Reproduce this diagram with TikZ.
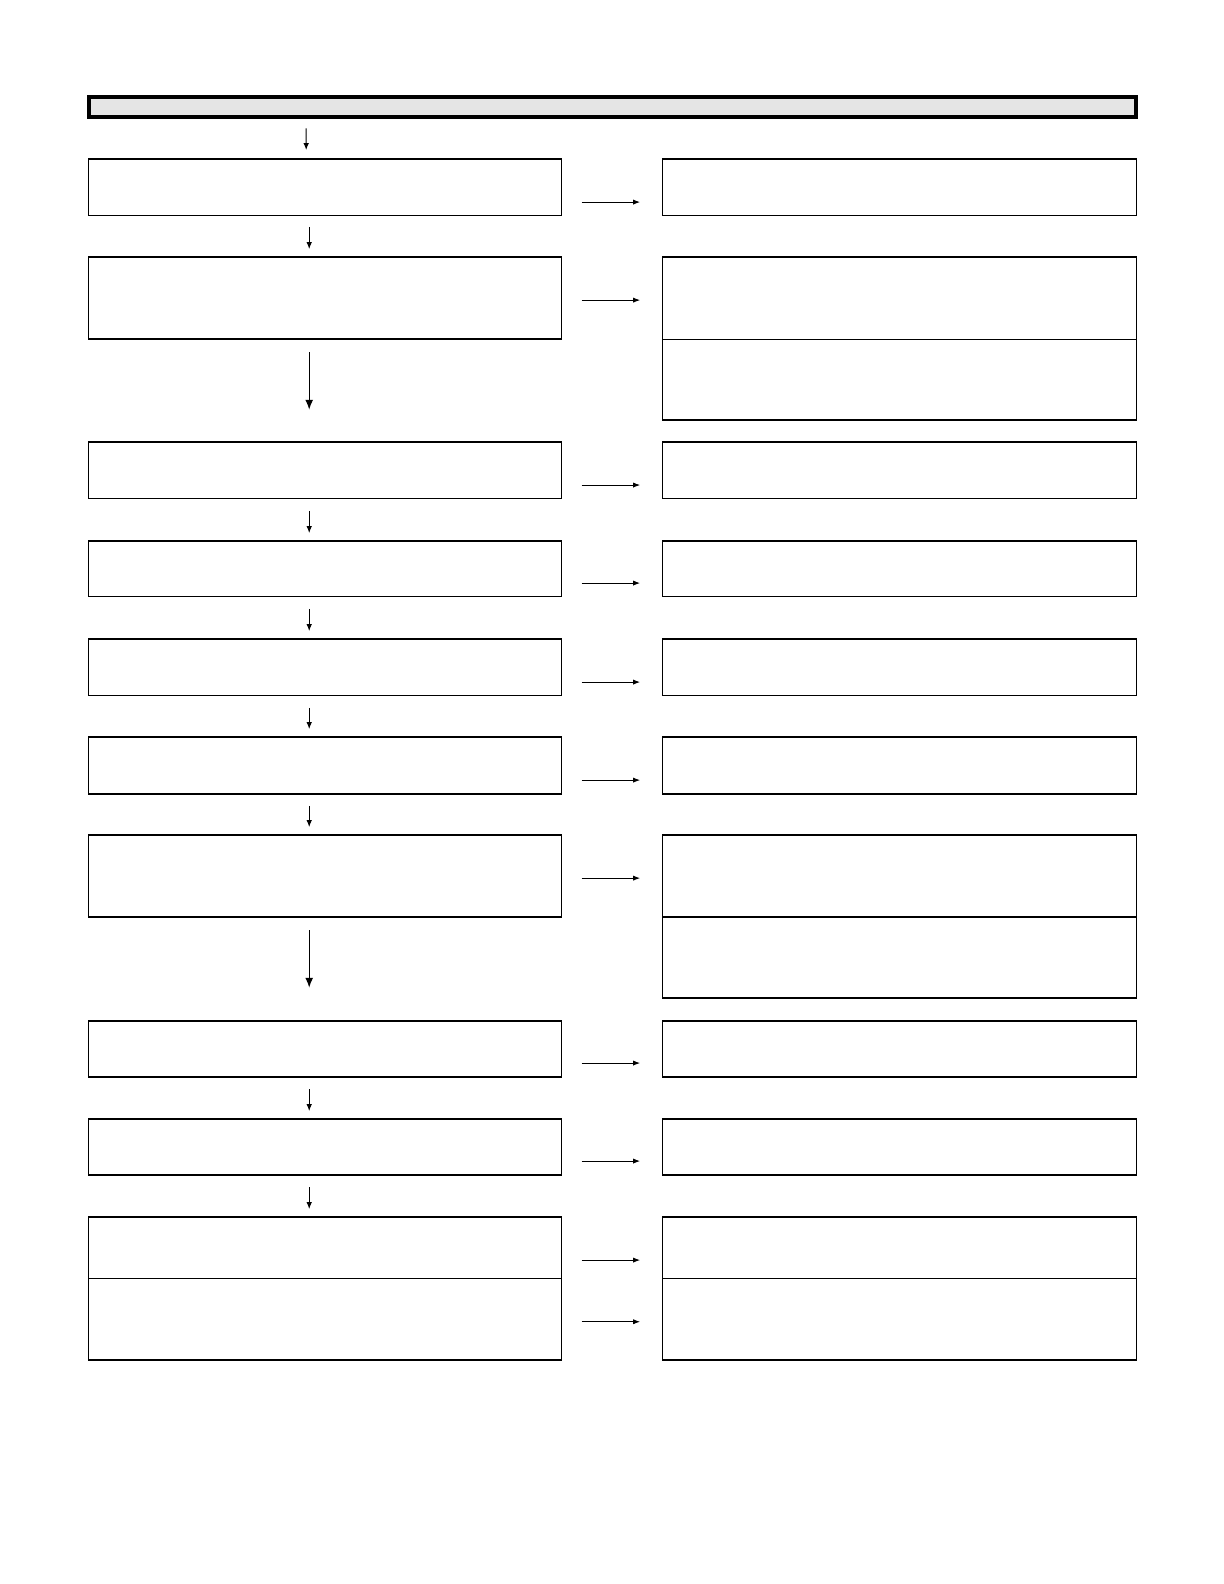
\documentclass[tikz,border=0pt]{standalone}
\usepackage{tikz}
\usetikzlibrary{calc}
\usetikzlibrary{arrows.meta,positioning}

\tikzset{
  leftbox/.style={rectangle,minimum width=236.46pt,inner sep=0pt,outer sep=0pt,draw=black,line width=0.75pt},
  rightbox/.style={rectangle,minimum width=236.96pt,inner sep=0pt,outer sep=0pt,draw=black,line width=0.75pt},
  dnarrow/.style={-{Latex[length=3.5pt,width=2.8pt]},line width=0.5pt},
  longarrow/.style={-{Latex[length=5pt,width=4pt]},line width=0.7pt},
  sidearrow/.style={-{Latex[length=3.5pt,width=2.6pt]},line width=0.5pt}
}

\begin{document}
\begin{tikzpicture}[x=0.50525pt,y=-0.50525pt]

\useasboundingbox (0pt,0pt) rectangle (612pt,-792pt);
\coordinate (TOPCORNER) at (0,0);

% draw header bar
\node[rectangle,minimum width=523.44pt,minimum height=10.1pt,fill=black!10,draw=black,line width=2pt,inner sep=0pt,outer sep=0pt] at ($(TOPCORNER)+(606,106)$) (HEADER) {};

%%%%%%%%%%%%%%%%%%%
% draw left column
\node[leftbox,minimum height=28.29pt] at ($(TOPCORNER)+(321.5,185.5)$) (LEFT1) {};
\node[leftbox,minimum height=40.93pt] at ($(TOPCORNER)+(321.5,295)$) (LEFT2) {};
\node[leftbox,minimum height=28.29pt] at ($(TOPCORNER)+(321.5,465.5)$) (LEFT3) {};
\node[leftbox,minimum height=27.79pt] at ($(TOPCORNER)+(321.5,563)$) (LEFT4) {};
\node[leftbox,minimum height=28.29pt] at ($(TOPCORNER)+(321.5,660.5)$) (LEFT5) {};
\node[leftbox,minimum height=28.29pt] at ($(TOPCORNER)+(321.5,757.5)$) (LEFT6) {};
\node[leftbox,minimum height=40.93pt] at ($(TOPCORNER)+(321.5,867)$) (LEFT7) {};
\node[leftbox,minimum height=28.04pt] at ($(TOPCORNER)+(321.5,1038.25)$) (LEFT8) {};
\node[leftbox,minimum height=28.04pt] at ($(TOPCORNER)+(321.5,1135.25)$) (LEFT9) {};
\node[leftbox,minimum height=30.57pt] at ($(TOPCORNER)+(321.5,1234.75)$) (LEFT10) {};
\node[leftbox,minimum height=40.93pt] at ($(TOPCORNER)+(321.5,1305.5)$) (LEFT11) {};

%%%%%%%%%%%%%%%%%%%
% draw right column
\node[rightbox,minimum height=28.29pt] at ($(TOPCORNER)+(890,185.5)$) (RIGHT1) {};
\node[rightbox,minimum height=41.18pt] at ($(TOPCORNER)+(890,295.25)$) (RIGHT2) {};
\node[rightbox,minimum height=40.17pt] at ($(TOPCORNER)+(890,375.75)$) (RIGHT2B) {};
\node[rightbox,minimum height=28.29pt] at ($(TOPCORNER)+(890,465.5)$) (RIGHT3) {};
\node[rightbox,minimum height=27.79pt] at ($(TOPCORNER)+(890,563)$) (RIGHT4) {};
\node[rightbox,minimum height=28.29pt] at ($(TOPCORNER)+(890,660.5)$) (RIGHT5) {};
\node[rightbox,minimum height=28.29pt] at ($(TOPCORNER)+(890,757.5)$) (RIGHT6) {};
\node[rightbox,minimum height=40.93pt] at ($(TOPCORNER)+(890,867)$) (RIGHT7) {};
\node[rightbox,minimum height=40.42pt] at ($(TOPCORNER)+(890,947.5)$) (RIGHT7B) {};
\node[rightbox,minimum height=28.04pt] at ($(TOPCORNER)+(890,1038.25)$) (RIGHT8) {};
\node[rightbox,minimum height=28.04pt] at ($(TOPCORNER)+(890,1135.25)$) (RIGHT9) {};
\node[rightbox,minimum height=30.57pt] at ($(TOPCORNER)+(890,1234.75)$) (RIGHT10) {};
\node[rightbox,minimum height=40.93pt] at ($(TOPCORNER)+(890,1305.5)$) (RIGHT11) {};

%%%%%%%%%%%%%%%%%%%
% draw down arrows
\draw[dnarrow] ($(HEADER.south west)+(215,11)$) -- ($(LEFT1.north west)+(215.5,-9)$);
\draw[dnarrow] ($(LEFT1.south west)+(218.5,11)$) -- ($(LEFT2.north west)+(218.5,-8)$);
\draw[longarrow] ($(LEFT2.south west)+(218.5,13)$) -- ($(LEFT3.north west)+(218.5,-32)$);
\draw[dnarrow] ($(LEFT3.south west)+(218.5,12)$) -- ($(LEFT4.north west)+(218.5,-8)$);
\draw[dnarrow] ($(LEFT4.south west)+(218.5,12)$) -- ($(LEFT5.north west)+(218.5,-8)$);
\draw[dnarrow] ($(LEFT5.south west)+(218.5,12)$) -- ($(LEFT6.north west)+(218.5,-8)$);
\draw[dnarrow] ($(LEFT6.south west)+(218.5,12)$) -- ($(LEFT7.north west)+(218.5,-8)$);
\draw[longarrow] ($(LEFT7.south west)+(218.5,13)$) -- ($(LEFT8.north west)+(218.5,-33)$);
\draw[dnarrow] ($(LEFT8.south west)+(218.5,12)$) -- ($(LEFT9.north west)+(218.5,-8)$);
\draw[dnarrow] ($(LEFT9.south west)+(218.5,12)$) -- ($(LEFT10.north west)+(218.5,-8)$);

%%%%%%%%%%%%%%%%%%%
% draw side arrows
\draw[sidearrow] ($(LEFT1.east)+(20,14.5)$) -- ($(RIGHT1.west)+(-22,14.5)$);
\draw[sidearrow] ($(LEFT2.east)+(20,2)$) -- ($(RIGHT2.west)+(-22,1.75)$);
\draw[sidearrow] ($(LEFT3.east)+(20,14.5)$) -- ($(RIGHT3.west)+(-22,14.5)$);
\draw[sidearrow] ($(LEFT4.east)+(20,14)$) -- ($(RIGHT4.west)+(-22,14)$);
\draw[sidearrow] ($(LEFT5.east)+(20,14.5)$) -- ($(RIGHT5.west)+(-22,14.5)$);
\draw[sidearrow] ($(LEFT6.east)+(20,14.5)$) -- ($(RIGHT6.west)+(-22,14.5)$);
\draw[sidearrow] ($(LEFT7.east)+(20,2)$) -- ($(RIGHT7.west)+(-22,2)$);
\draw[sidearrow] ($(LEFT8.east)+(20,13.75)$) -- ($(RIGHT8.west)+(-22,13.75)$);
\draw[sidearrow] ($(LEFT9.east)+(20,13.75)$) -- ($(RIGHT9.west)+(-22,13.75)$);
\draw[sidearrow] ($(LEFT10.east)+(20,12.25)$) -- ($(RIGHT10.west)+(-22,12.25)$);
\draw[sidearrow] ($(LEFT11.east)+(20,2.5)$) -- ($(RIGHT11.west)+(-22,2.5)$);

% link underline
\draw[line width=0.6pt,blue!60!black] ($(TOPCORNER)+(127,1574.5)$) -- ++(141,0);

\end{tikzpicture}
\end{document}
